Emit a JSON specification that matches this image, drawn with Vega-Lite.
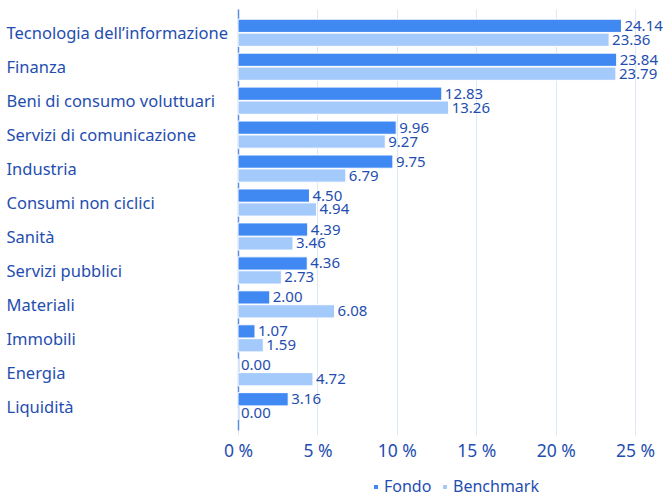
{
  "$schema": "https://vega.github.io/schema/vega-lite/v6.json",
  "autosize": "none",
  "width": 413,
  "height": 421,
  "padding": {"left": 238, "top": 9, "right": 17, "bottom": 66},
  "background": "white",
  "config": {
    "view": {"stroke": null},
    "font": "Noto Sans",
    "text": {"font": "Noto Sans"}
  },
  "data": {
    "values": [
      {"sector": "Tecnologia dell’informazione", "series": "Fondo", "value": 24.14},
      {"sector": "Tecnologia dell’informazione", "series": "Benchmark", "value": 23.36},
      {"sector": "Finanza", "series": "Fondo", "value": 23.84},
      {"sector": "Finanza", "series": "Benchmark", "value": 23.79},
      {"sector": "Beni di consumo voluttuari", "series": "Fondo", "value": 12.83},
      {"sector": "Beni di consumo voluttuari", "series": "Benchmark", "value": 13.26},
      {"sector": "Servizi di comunicazione", "series": "Fondo", "value": 9.96},
      {"sector": "Servizi di comunicazione", "series": "Benchmark", "value": 9.27},
      {"sector": "Industria", "series": "Fondo", "value": 9.75},
      {"sector": "Industria", "series": "Benchmark", "value": 6.79},
      {"sector": "Consumi non ciclici", "series": "Fondo", "value": 4.50},
      {"sector": "Consumi non ciclici", "series": "Benchmark", "value": 4.94},
      {"sector": "Sanità", "series": "Fondo", "value": 4.39},
      {"sector": "Sanità", "series": "Benchmark", "value": 3.46},
      {"sector": "Servizi pubblici", "series": "Fondo", "value": 4.36},
      {"sector": "Servizi pubblici", "series": "Benchmark", "value": 2.73},
      {"sector": "Materiali", "series": "Fondo", "value": 2.00},
      {"sector": "Materiali", "series": "Benchmark", "value": 6.08},
      {"sector": "Immobili", "series": "Fondo", "value": 1.07},
      {"sector": "Immobili", "series": "Benchmark", "value": 1.59},
      {"sector": "Energia", "series": "Fondo", "value": 0.00},
      {"sector": "Energia", "series": "Benchmark", "value": 4.72},
      {"sector": "Liquidità", "series": "Fondo", "value": 3.16},
      {"sector": "Liquidità", "series": "Benchmark", "value": 0.00}
    ]
  },
  "encoding": {
    "y": {
      "field": "sector",
      "type": "nominal",
      "sort": null,
      "scale": {"paddingInner": 0.2, "paddingOuter": 0.3},
      "axis": {
        "title": null,
        "ticks": false,
        "labelAlign": "left",
        "labelPadding": 232,
        "labelLimit": 240,
        "labelOffset": 1.5,
        "labelFontSize": 16.5,
        "labelColor": "#1f4eb0",
        "domainColor": "#5b8ee0",
        "domainWidth": 1.5
      }
    },
    "yOffset": {
      "field": "series",
      "type": "nominal",
      "sort": ["Fondo", "Benchmark"],
      "scale": {"paddingInner": 0.05}
    },
    "x": {
      "field": "value",
      "type": "quantitative",
      "scale": {"domain": [0, 26], "nice": false},
      "axis": {
        "title": null,
        "values": [0, 5, 10, 15, 20, 25],
        "labelExpr": "datum.value + ' %'",
        "labelFontSize": 17.5,
        "labelFlush": false,
        "labelColor": "#1f4eb0",
        "labelPadding": 7,
        "domain": false,
        "gridColor": "#dde8f6",
        "tickColor": "#dde8f6",
        "tickSize": 5
      }
    }
  },
  "layer": [
    {
      "mark": {"type": "bar", "stroke": "white", "strokeWidth": 1},
      "encoding": {
        "color": {
          "field": "series",
          "type": "nominal",
          "sort": ["Fondo", "Benchmark"],
          "scale": {"domain": ["Fondo", "Benchmark"], "range": ["#4088f2", "#a4c9fb"]},
          "legend": {
            "title": null,
            "orient": "none",
            "legendX": 130,
            "legendY": 470,
            "direction": "horizontal",
            "symbolType": "square",
            "symbolSize": 30,
            "labelFontSize": 16,
            "labelColor": "#1f4eb0",
            "columnPadding": 5,
            "labelOffset": 0
          }
        }
      }
    },
    {
      "mark": {"type": "text", "align": "left", "baseline": "middle", "dx": 3, "fontSize": 15, "color": "#1f4eb0"},
      "encoding": {
        "text": {"field": "value", "type": "quantitative", "format": ".2f"}
      }
    }
  ]
}
